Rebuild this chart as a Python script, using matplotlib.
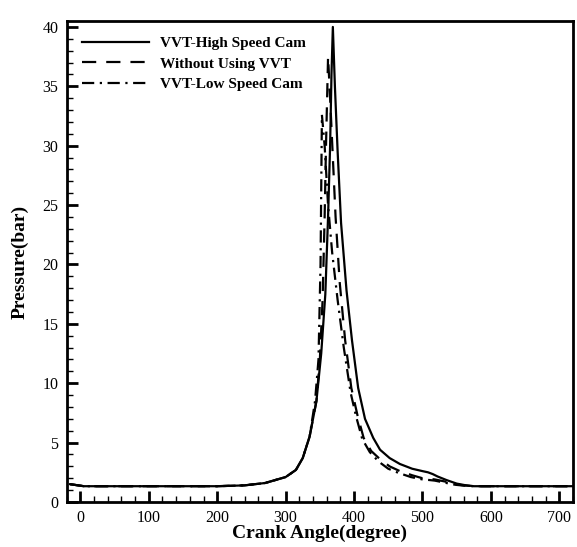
import numpy as np
import matplotlib
matplotlib.use("Agg")
import matplotlib.pyplot as plt
from matplotlib.ticker import MultipleLocator

# кривые давления (угол, бар)
high_angle = [-15, 5, 100, 200, 240, 270, 300, 315, 325, 335, 345, 352, 358, 362, 365, 367, 369,
              372, 376, 381, 389, 397, 406, 416, 428, 438, 452, 467, 485, 500, 508, 515, 522, 535,
              550, 562, 575, 650, 720]
high_p = [1.5, 1.33, 1.33, 1.33, 1.4, 1.6, 2.1, 2.7, 3.7, 5.5, 8.5, 12.5, 17.5, 24.0, 30.0, 36.0, 40.0,
          35.0, 29.5, 23.5, 17.8, 13.6, 9.6, 7.0, 5.4, 4.4, 3.7, 3.2, 2.8, 2.6, 2.5, 2.35, 2.15, 1.85,
          1.55, 1.42, 1.33, 1.33, 1.33]

base_angle = [-15, 5, 100, 200, 240, 270, 300, 315, 325, 335, 345, 350, 354, 357, 359,
              362, 365, 369, 373, 379, 387, 396, 405, 414, 425, 438, 452, 467, 485, 500, 510, 518, 535,
              548, 560, 575, 650, 720]
base_p = [1.5, 1.33, 1.33, 1.33, 1.4, 1.6, 2.1, 2.7, 3.7, 5.5, 8.5, 12.0, 17.0, 24.0, 30.0,
          37.5, 34.0, 29.0, 24.0, 18.5, 13.6, 9.6, 7.3, 5.4, 4.3, 3.6, 3.0, 2.6, 2.25, 2.0, 1.95, 1.9, 1.7,
          1.5, 1.4, 1.33, 1.33, 1.33]

low_angle = [-15, 5, 100, 200, 240, 270, 300, 315, 325, 335, 343, 348, 351, 353,
             357, 362, 368, 376, 385, 395, 403, 412, 423, 436, 450, 465, 483, 500, 510, 518, 535,
             548, 560, 575, 650, 720]
low_p = [1.5, 1.33, 1.33, 1.33, 1.4, 1.6, 2.1, 2.7, 3.7, 5.5, 8.5, 12.0, 20.0, 32.6,
         30.0, 25.0, 21.0, 17.0, 13.0, 9.2, 7.2, 5.3, 4.2, 3.4, 2.8, 2.45, 2.1, 1.9, 1.85, 1.8, 1.6,
         1.45, 1.38, 1.33, 1.33, 1.33]

fig = plt.figure(figsize=(5.77, 5.47), dpi=100)
ax = fig.add_axes([66.7 / 577, 45 / 547, 506.3 / 577, 481 / 547])

ax.plot(high_angle, high_p, color="black", lw=1.6, ls="-", label="VVT-High Speed Cam")
ax.plot(base_angle, base_p, color="black", lw=1.6, ls=(0, (6.4, 4.5)), label="Without Using VVT")
ax.plot(low_angle, low_p, color="black", lw=1.6, ls=(0, (5.5, 2.5, 1, 2.5)), label="VVT-Low Speed Cam")

ax.set_xlim(-20, 720)
ax.set_ylim(0, 40.5)
ax.xaxis.set_major_locator(MultipleLocator(100))
ax.xaxis.set_minor_locator(MultipleLocator(20))
ax.yaxis.set_major_locator(MultipleLocator(5))
ax.yaxis.set_minor_locator(MultipleLocator(1))
ax.tick_params(which="major", direction="in", length=8, width=2, labelsize=11.5,
               top=False, right=False, pad=6)
ax.tick_params(which="minor", direction="in", length=4.5, width=1, top=False, right=False)
for lab in ax.get_xticklabels() + ax.get_yticklabels():
    lab.set_fontfamily("Liberation Serif")
for s in ax.spines.values():
    s.set_linewidth(2)

ax.set_xlabel("Crank Angle(degree)", fontfamily="Liberation Serif", fontweight="bold",
              fontsize=14, labelpad=-1)
ax.set_ylabel("Pressure(bar)", fontfamily="Liberation Serif", fontweight="bold",
              fontsize=14, labelpad=10)

ax.legend(loc="upper left", frameon=False, handlelength=4.4, handletextpad=0.7,
          labelspacing=0.45, borderaxespad=0.6,
          prop={"family": "Liberation Serif", "weight": "bold", "size": 11})

fig.savefig("out.png", dpi=100)
